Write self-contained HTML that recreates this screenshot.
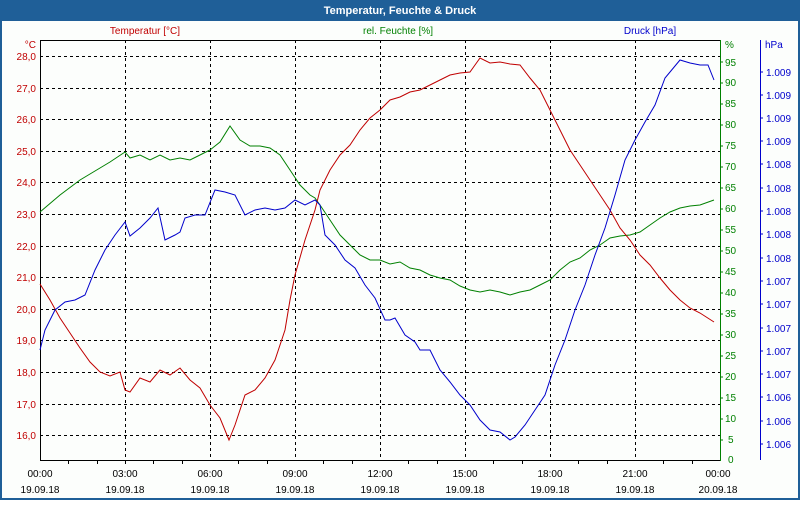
<!DOCTYPE html>
<html><head><style>
body{margin:0;width:800px;height:500px;overflow:hidden;background:#fff;font-family:"Liberation Sans",sans-serif}
</style></head><body>
<svg width="800" height="500" xmlns="http://www.w3.org/2000/svg" font-family="Liberation Sans, sans-serif" font-size="10">
<rect x="0" y="0" width="800" height="500" fill="#1f5f98"/>
<rect x="2" y="21" width="796" height="477" fill="#fcfefc"/>
<text x="400" y="14" fill="#fff" font-weight="bold" font-size="11" text-anchor="middle">Temperatur, Feuchte &amp; Druck</text>
<text x="145" y="34" fill="#c00000" text-anchor="middle">Temperatur [°C]</text>
<text x="398" y="34" fill="#008000" text-anchor="middle">rel. Feuchte [%]</text>
<text x="650" y="34" fill="#0000cc" text-anchor="middle">Druck [hPa]</text>
<g stroke="#000" stroke-dasharray="3,3" stroke-width="1">
<line x1="40" y1="56.5" x2="720" y2="56.5"/><line x1="40" y1="88.5" x2="720" y2="88.5"/><line x1="40" y1="119.5" x2="720" y2="119.5"/><line x1="40" y1="151.5" x2="720" y2="151.5"/><line x1="40" y1="182.5" x2="720" y2="182.5"/><line x1="40" y1="214.5" x2="720" y2="214.5"/><line x1="40" y1="246.5" x2="720" y2="246.5"/><line x1="40" y1="277.5" x2="720" y2="277.5"/><line x1="40" y1="309.5" x2="720" y2="309.5"/><line x1="40" y1="340.5" x2="720" y2="340.5"/><line x1="40" y1="372.5" x2="720" y2="372.5"/><line x1="40" y1="404.5" x2="720" y2="404.5"/><line x1="40" y1="435.5" x2="720" y2="435.5"/>
<line x1="125.5" y1="40" x2="125.5" y2="460"/><line x1="210.5" y1="40" x2="210.5" y2="460"/><line x1="295.5" y1="40" x2="295.5" y2="460"/><line x1="380.5" y1="40" x2="380.5" y2="460"/><line x1="465.5" y1="40" x2="465.5" y2="460"/><line x1="550.5" y1="40" x2="550.5" y2="460"/><line x1="635.5" y1="40" x2="635.5" y2="460"/>
</g>
<line x1="40" y1="40.5" x2="720" y2="40.5" stroke="#000"/>
<line x1="40.5" y1="40" x2="40.5" y2="461" stroke="#000"/>
<line x1="40" y1="460.5" x2="720" y2="460.5" stroke="#000"/>
<line x1="720.5" y1="40" x2="720.5" y2="461" stroke="#008000"/>
<line x1="760.5" y1="40" x2="760.5" y2="460" stroke="#0000cc"/>
<g fill="#c00000" text-anchor="end">
<text x="36" y="48">°C</text><text x="36" y="60">28,0</text><text x="36" y="92">27,0</text><text x="36" y="123">26,0</text><text x="36" y="155">25,0</text><text x="36" y="186">24,0</text><text x="36" y="218">23,0</text><text x="36" y="250">22,0</text><text x="36" y="281">21,0</text><text x="36" y="313">20,0</text><text x="36" y="344">19,0</text><text x="36" y="376">18,0</text><text x="36" y="408">17,0</text><text x="36" y="439">16,0</text>
</g>
<g fill="#008000">
<text x="725" y="48">%</text>
<text x="725" y="66">95</text><text x="725" y="86">90</text><text x="725" y="107">85</text><text x="725" y="128">80</text><text x="725" y="149">75</text><text x="725" y="170">70</text><text x="725" y="191">65</text><text x="725" y="212">60</text><text x="725" y="233">55</text><text x="725" y="254">50</text><text x="725" y="275">45</text><text x="725" y="296">40</text><text x="725" y="317">35</text><text x="725" y="338">30</text><text x="725" y="359">25</text><text x="725" y="380">20</text><text x="725" y="401">15</text><text x="725" y="422">10</text><text x="728" y="443">5</text><text x="728" y="463">0</text>
</g>
<g stroke="#008000">
<line x1="720" y1="62" x2="723" y2="62"/><line x1="720" y1="83" x2="723" y2="83"/><line x1="720" y1="104" x2="723" y2="104"/><line x1="720" y1="125" x2="723" y2="125"/><line x1="720" y1="146" x2="723" y2="146"/><line x1="720" y1="167" x2="723" y2="167"/><line x1="720" y1="188" x2="723" y2="188"/><line x1="720" y1="209" x2="723" y2="209"/><line x1="720" y1="230" x2="723" y2="230"/><line x1="720" y1="251" x2="723" y2="251"/><line x1="720" y1="272" x2="723" y2="272"/><line x1="720" y1="293" x2="723" y2="293"/><line x1="720" y1="314" x2="723" y2="314"/><line x1="720" y1="335" x2="723" y2="335"/><line x1="720" y1="356" x2="723" y2="356"/><line x1="720" y1="377" x2="723" y2="377"/><line x1="720" y1="398" x2="723" y2="398"/><line x1="720" y1="419" x2="723" y2="419"/><line x1="720" y1="440" x2="723" y2="440"/>
</g>
<g fill="#0000cc">
<text x="765" y="48">hPa</text>
<text x="766" y="76">1.009</text><text x="766" y="99">1.009</text><text x="766" y="122">1.009</text><text x="766" y="145">1.009</text><text x="766" y="168">1.008</text><text x="766" y="192">1.008</text><text x="766" y="215">1.008</text><text x="766" y="238">1.008</text><text x="766" y="262">1.008</text><text x="766" y="285">1.007</text><text x="766" y="308">1.007</text><text x="766" y="332">1.007</text><text x="766" y="355">1.007</text><text x="766" y="378">1.007</text><text x="766" y="401">1.006</text><text x="766" y="425">1.006</text><text x="766" y="448">1.006</text>
</g>
<g stroke="#0000cc">
<line x1="760" y1="72" x2="763" y2="72"/><line x1="760" y1="95" x2="763" y2="95"/><line x1="760" y1="118" x2="763" y2="118"/><line x1="760" y1="141" x2="763" y2="141"/><line x1="760" y1="164" x2="763" y2="164"/><line x1="760" y1="188" x2="763" y2="188"/><line x1="760" y1="211" x2="763" y2="211"/><line x1="760" y1="234" x2="763" y2="234"/><line x1="760" y1="258" x2="763" y2="258"/><line x1="760" y1="281" x2="763" y2="281"/><line x1="760" y1="304" x2="763" y2="304"/><line x1="760" y1="328" x2="763" y2="328"/><line x1="760" y1="351" x2="763" y2="351"/><line x1="760" y1="374" x2="763" y2="374"/><line x1="760" y1="397" x2="763" y2="397"/><line x1="760" y1="421" x2="763" y2="421"/><line x1="760" y1="444" x2="763" y2="444"/>
</g>
<g stroke="#000">
<line x1="68.5" y1="460" x2="68.5" y2="464"/><line x1="97.5" y1="460" x2="97.5" y2="464"/><line x1="125.5" y1="460" x2="125.5" y2="464"/><line x1="153.5" y1="460" x2="153.5" y2="464"/><line x1="182.5" y1="460" x2="182.5" y2="464"/><line x1="238.5" y1="460" x2="238.5" y2="464"/><line x1="267.5" y1="460" x2="267.5" y2="464"/><line x1="323.5" y1="460" x2="323.5" y2="464"/><line x1="352.5" y1="460" x2="352.5" y2="464"/><line x1="408.5" y1="460" x2="408.5" y2="464"/><line x1="437.5" y1="460" x2="437.5" y2="464"/><line x1="493.5" y1="460" x2="493.5" y2="464"/><line x1="522.5" y1="460" x2="522.5" y2="464"/><line x1="578.5" y1="460" x2="578.5" y2="464"/><line x1="607.5" y1="460" x2="607.5" y2="464"/><line x1="663.5" y1="460" x2="663.5" y2="464"/><line x1="692.5" y1="460" x2="692.5" y2="464"/>
</g>
<g fill="#000" text-anchor="middle">
<text x="40" y="477">00:00</text><text x="40" y="493">19.09.18</text>
<text x="125" y="477">03:00</text><text x="125" y="493">19.09.18</text>
<text x="210" y="477">06:00</text><text x="210" y="493">19.09.18</text>
<text x="295" y="477">09:00</text><text x="295" y="493">19.09.18</text>
<text x="380" y="477">12:00</text><text x="380" y="493">19.09.18</text>
<text x="465" y="477">15:00</text><text x="465" y="493">19.09.18</text>
<text x="550" y="477">18:00</text><text x="550" y="493">19.09.18</text>
<text x="635" y="477">21:00</text><text x="635" y="493">19.09.18</text>
<text x="718" y="477">00:00</text><text x="718" y="493">20.09.18</text>
</g>
<polyline fill="none" stroke="#008000" points="40,212 60,195 80,180 100,168 110,162 125,152 130,158 140,155 150,160 160,155 170,160 180,158 190,160 200,155 210,150 220,142 230,126 240,140 250,146 260,146 270,148 280,155 290,170 300,185 310,195 315,198 320,205 330,220 340,235 350,245 360,255 370,260 380,260 390,264 400,262 410,268 420,270 430,275 440,278 450,280 460,286 470,290 480,292 490,290 500,292 510,295 520,292 530,290 540,285 550,280 560,270 570,262 580,258 590,250 600,245 610,238 620,236 630,235 640,232 650,225 660,218 670,212 680,208 690,206 700,205 714,200"/>
<polyline fill="none" stroke="#c00000" points="40,284 50,300 60,318 70,333 80,348 90,362 100,372 110,376 120,372 125,390 130,392 140,378 150,382 160,370 170,375 180,368 190,380 200,388 210,405 220,418 229,440 235,425 245,395 255,390 265,378 275,360 285,330 290,300 295,275 305,240 315,210 320,190 330,170 340,155 350,145 360,130 370,118 380,110 390,100 400,97 410,92 420,90 430,85 440,80 450,75 460,73 470,72 475,65 480,58 490,63 500,62 510,64 520,65 530,78 540,90 550,110 560,130 570,150 580,165 590,180 600,195 610,210 620,228 630,240 640,255 650,265 660,278 670,290 680,300 690,308 700,313 714,322"/>
<polyline fill="none" stroke="#0000cc" points="40,350 45,330 55,310 65,302 75,300 85,295 95,270 105,250 115,235 125,222 130,236 140,228 150,218 158,208 165,240 175,235 180,232 185,218 195,215 205,215 215,190 225,192 235,195 245,215 255,210 265,208 275,210 285,208 295,200 305,205 315,200 320,205 325,235 335,245 345,260 355,268 365,285 375,298 385,320 390,320 395,318 405,335 415,342 420,350 430,350 440,370 450,382 460,395 470,405 480,420 490,430 500,432 510,440 515,437 525,425 535,410 545,395 555,365 565,340 575,310 585,285 595,255 605,228 615,195 625,160 635,140 645,122 655,105 665,78 680,60 690,63 700,65 708,65 714,80"/>
</svg>
</body></html>
